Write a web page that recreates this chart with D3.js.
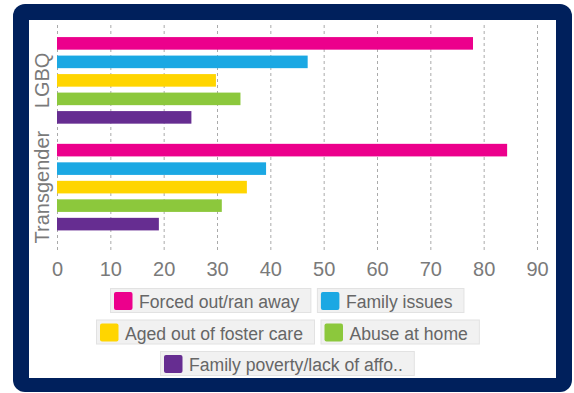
<!DOCTYPE html>
<html><head><meta charset="utf-8">
<script src="https://cdn.jsdelivr.net/npm/d3@7"></script>
<style>html,body{margin:0;padding:0;background:#fff;}svg{display:block;font-family:"Liberation Sans",Arial,Helvetica,sans-serif;}</style>
</head><body>
<svg id="c" width="574" height="393"></svg>
<script>
const groups = ["LGBQ", "Transgender"];
const series = ["Forced out/ran away", "Family issues", "Aged out of foster care", "Abuse at home", "Family poverty/lack of affo.."];
const lgbqValues = [78, 47, 29.8, 34.4, 25.2];
const transgenderValues = [84.4, 39.2, 35.6, 30.9, 19.1];
const xTicks = [0, 10, 20, 30, 40, 50, 60, 70, 80, 90];
const colors = ["#EC008C", "#1BA8E3", "#FFD500", "#8CC83C", "#662D91"];

const valuesByGroup = {LGBQ: lgbqValues, Transgender: transgenderValues};
const svg = d3.select("#c");

// frame
svg.append("rect").attr("x",13).attr("y",4).attr("width",559).attr("height",388).attr("rx",12).attr("fill","#00205C");
svg.append("rect").attr("x",29).attr("y",20).attr("width",527).attr("height",358).attr("fill","#fff");

const x = d3.scaleLinear().domain([0, 90]).range([57, 537]);
const y0 = d3.scaleBand().domain(groups).range([27, 240.5]);
const y1 = d3.scaleBand().domain(series).range([0, y0.bandwidth()]).paddingInner(0.32).paddingOuter(0.545);
const color = d3.scaleOrdinal().domain(series).range(colors);

// grid
const gridG = svg.append("g");
gridG.selectAll("line").data(xTicks).join("line")
  .attr("x1", d => x(d) + 0.5).attr("x2", d => x(d) + 0.5)
  .attr("y1", 25).attr("y2", 251)
  .attr("stroke", "#aaa").attr("stroke-width", 1).attr("stroke-dasharray", "3,3");

// x axis labels
const xAxis = d3.axisBottom(x).tickValues(xTicks).tickSize(0).tickPadding(0);
const ax = svg.append("g").attr("transform", "translate(0,262)").call(xAxis);
ax.select(".domain").remove();
ax.selectAll("text").attr("font-size", 20).attr("fill", "#7a7a7a").attr("dy", "0.71em")
  .attr("font-family", "'Liberation Sans', Arial, sans-serif");

// bars
const gg = svg.append("g").selectAll("g").data(groups).join("g")
  .attr("transform", g => `translate(0,${y0(g)})`);
gg.selectAll("rect").data(g => series.map((s, i) => ({s, v: valuesByGroup[g][i]}))).join("rect")
  .attr("x", x(0)).attr("y", d => y1(d.s))
  .attr("width", d => x(d.v) - x(0)).attr("height", y1.bandwidth())
  .attr("fill", d => color(d.s));

// group labels
svg.append("g").selectAll("text").data(groups).join("text")
  .attr("transform", g => `translate(49,${y0(g) + y0.bandwidth()/2}) rotate(-90)`)
  .attr("text-anchor", "middle")
  .attr("font-size", 20).attr("fill", "#7a7a7a")
  .text(g => g);

// legend
const leg = svg.append("g");
const items = series.map((s, i) => {
  const g = leg.append("g");
  const t = g.append("text").attr("font-size", 17.6).attr("fill", "#666").text(s);
  const tw = t.node().getComputedTextLength();
  const w = 4 + 19 + 6 + tw + 11;
  return {s, g, t, w};
});
const maxW = 400, gap = 6.5, rowH = 31.5, top0 = 288, center = 287;
let rows = [[]], cur = 0;
items.forEach(it => {
  const r = rows[rows.length - 1];
  const nw = cur + (r.length ? gap : 0) + it.w;
  if (r.length && nw > maxW) { rows.push([it]); cur = it.w; }
  else { r.push(it); cur = nw; }
});
rows.forEach((r, ri) => {
  const tot = d3.sum(r, d => d.w) + gap * (r.length - 1);
  let xx = Math.round(center - tot / 2);
  const yy = top0 + ri * rowH;
  r.forEach(it => {
    it.g.attr("transform", `translate(${xx},${yy})`);
    it.g.insert("rect", "text").attr("x", 0.5).attr("y", 0.5).attr("width", it.w).attr("height", 24)
      .attr("fill", "#f1f1f1").attr("stroke", "#e2e2e2");
    it.g.insert("rect", "text").attr("x", 4).attr("y", 4).attr("width", 18.5).attr("height", 18)
      .attr("rx", 2).attr("fill", color(it.s));
    it.t.attr("x", 29).attr("y", 20);
    xx += it.w + gap;
  });
});
</script>
</body></html>
